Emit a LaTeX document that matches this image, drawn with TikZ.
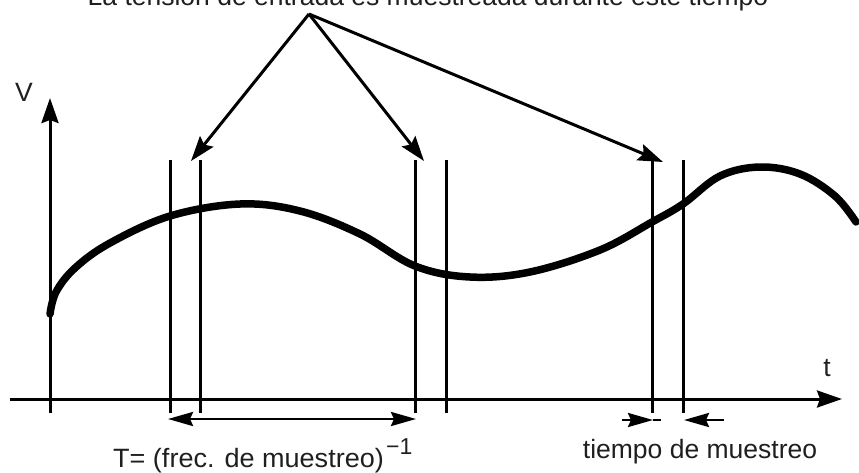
\documentclass[tikz,border=0pt]{standalone}
\usepackage{fontspec}
\setmainfont{Liberation Sans}
\usetikzlibrary{arrows.meta}
\begin{document}
\begin{tikzpicture}[x=1pt,y=-1pt,
  txt/.style={inner sep=0pt,text=black!88,font=\fontsize{26.5}{31}\selectfont},
  axis/.style={line width=3pt,-{Stealth[length=25pt,width=17pt,inset=3pt]}},
  sampleline/.style={line width=3pt},
  callout/.style={line width=3pt,-{Stealth[length=25pt,width=17pt,inset=4pt]}},
  dim/.style={line width=2.8pt},
  dimtip/.style={-{Stealth[length=25pt,width=14pt,inset=3pt]}},
  signal/.style={line width=7.5pt,line cap=round,line join=round}]
\useasboundingbox (0,0) rectangle (859,472);
\clip (0,0) rectangle (859,472);
\fill[white] (0,0) rectangle (859,472);

% top text (clipped at the top edge, as in the reference)
\node[txt,anchor=base] (title) at (428,5) {La tensión de entrada es muestreada durante este tiempo};

% axes
\coordinate (vb) at (50,413);
\coordinate (vt) at (50,98);
\coordinate (tl) at (10,399);
\coordinate (tr) at (842,399);
\draw[axis] (vb) -- (vt);
\draw[axis] (tl) -- (tr);
\node[txt] (vlab) at (24,92) {V};
\node[txt] (tlab) at (827,368) {t};

% sampling lines
\foreach \n/\x in {s1/170,s2/200,s3/415,s4/446,s5/652,s6/683}{
  \coordinate (\n t) at (\x,160);
  \coordinate (\n b) at (\x,413);
  \draw[sampleline] (\n t) -- (\n b);
}

% signal
\draw[signal] plot[smooth,tension=0.6] coordinates {(50,314) (56,292) (75,268) (110,243) (170,216) (240,204) (300,211) (360,234) (415,266) (470,277) (530,272) (600,250) (652,222) (683,204) (720,176) (760,167) (800,174) (835,196) (856,222)};

% callout arrows
\coordinate (apex) at (309,14);
\coordinate (c1) at (191,161);
\coordinate (c2) at (424,161);
\coordinate (c3) at (663,162);
\draw[callout] (apex) -- (c1);
\draw[callout] (apex) -- (c2);
\draw[callout] (apex) -- (c3);

% period dimension
\coordinate (pl) at (168,419);
\coordinate (pr) at (416,419);
\draw[dim,{Stealth[length=25pt,width=14pt,inset=3pt]}-{Stealth[length=25pt,width=14pt,inset=3pt]}] (pl) -- (pr);
\node[txt,anchor=base west] (Tlab) at (113,467) {\scalebox{1.02}[1]{T= (frec. de muestreo)}};
\node[txt,anchor=base west,font=\fontsize{23}{27}\selectfont] (sup) at (386,454) {−1};

% sampling time arrows
\coordinate (al) at (622,420);
\coordinate (at) at (653,420);
\coordinate (ae) at (661,420);
\coordinate (bl) at (724,420);
\coordinate (bt) at (684,420);
\draw[dim,dimtip] (al) -- (at);
\draw[dim] (at) -- (ae);
\draw[dim,dimtip] (bl) -- (bt);
\node[txt,anchor=base] (smp) at (700,458) {tiempo de muestreo};
\end{tikzpicture}
\end{document}
